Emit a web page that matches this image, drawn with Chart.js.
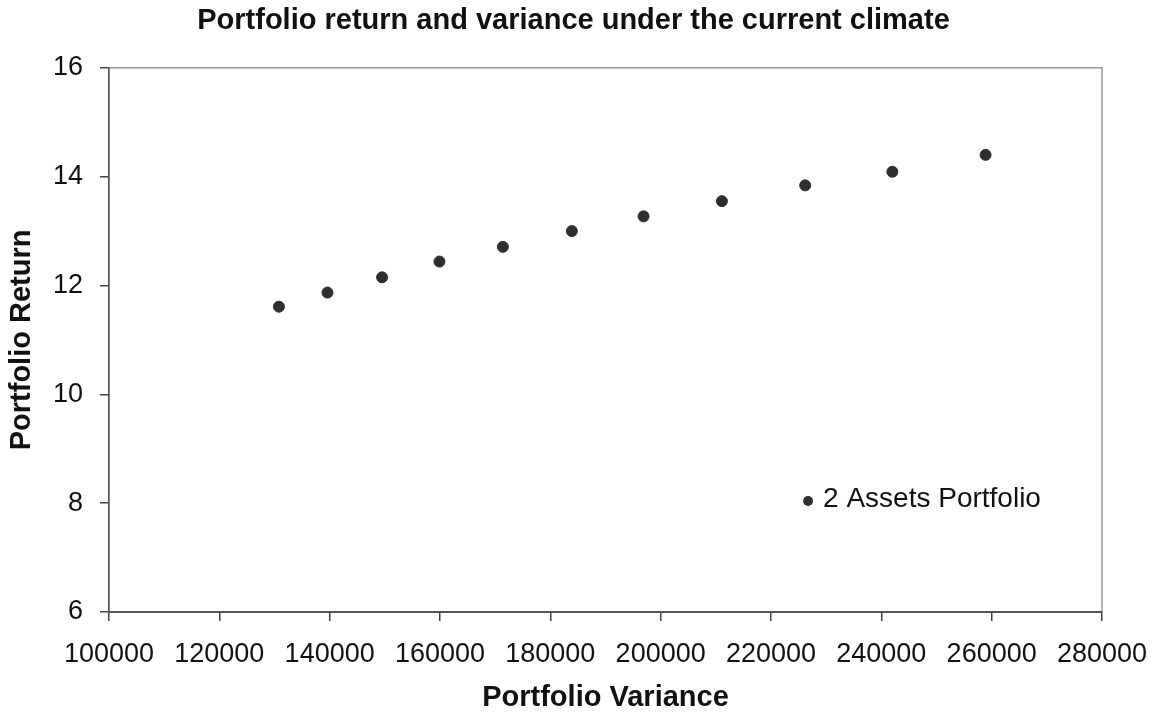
<!DOCTYPE html>
<html>
<head>
<meta charset="utf-8">
<title>Portfolio return and variance</title>
<script src="https://cdn.jsdelivr.net/npm/chart.js@4.4.0/dist/chart.umd.min.js"></script>
<style>
    body { margin: 0; background: #fff; }
    #wrap { width: 1153px; height: 712px; }
</style>
</head>
<body>
<div id="wrap"><canvas id="riskChart" width="1153" height="712"></canvas></div>
<script>
// Values
const variance = [130800, 139600, 149500, 159900, 171400, 183900, 196900, 211100, 226200, 242000, 258900];
const returns = [11.61, 11.87, 12.15, 12.44, 12.71, 13.00, 13.27, 13.55, 13.84, 14.09, 14.40];
const seriesName = '2 Assets Portfolio';
const xTicks = [100000, 120000, 140000, 160000, 180000, 200000, 220000, 240000, 260000, 280000];
const yTicks = [6, 8, 10, 12, 14, 16];

const FONT = "'Liberation Sans', Arial, sans-serif";
const INK = '#111';

// light grey frame on top/right, drawn before the axes so they sit over it
const frame = {
    id: 'frame',
    beforeDraw(chart) {
        const a = chart.chartArea;
        const ctx = chart.ctx;
        ctx.save();
        ctx.strokeStyle = '#9a9a9a';
        ctx.lineWidth = 1.5;
        ctx.strokeRect(a.left, a.top, a.right - a.left, a.bottom - a.top);
        ctx.restore();
    }
};

// legend sits inside the plot, lower right
const insideLegend = {
    id: 'insideLegend',
    afterDatasetsDraw(chart) {
        const a = chart.chartArea;
        const ctx = chart.ctx;
        const ds = chart.data.datasets[0];
        const mx = a.left + (a.right - a.left) * 0.704;
        const my = a.top + (a.bottom - a.top) * 0.796;
        ctx.save();
        ctx.fillStyle = ds.pointBackgroundColor;
        ctx.beginPath();
        ctx.arc(mx, my, 5, 0, Math.PI * 2);
        ctx.fill();
        ctx.fillStyle = INK;
        ctx.font = '28px ' + FONT;
        ctx.textBaseline = 'middle';
        ctx.textAlign = 'left';
        ctx.fillText(ds.label, mx + 15, my - 2);
        ctx.restore();
    }
};

document.addEventListener('DOMContentLoaded', () => {
    const ctx = document.getElementById('riskChart').getContext('2d');

    new Chart(ctx, {
        type: 'scatter',
        data: {
            datasets: [{
                label: seriesName,
                data: variance.map((v, i) => ({ x: v, y: returns[i] })),
                pointBackgroundColor: '#2e2e2e',
                pointBorderColor: '#2e2e2e',
                pointRadius: 5.5,
                pointHoverRadius: 5.5
            }]
        },
        options: {
            responsive: false,
            animation: false,
            layout: {
                padding: { left: 45, right: 51, top: 0, bottom: 0 }
            },
            plugins: {
                legend: { display: false },
                tooltip: { enabled: false },
                title: {
                    display: true,
                    text: 'Portfolio return and variance under the current climate',
                    color: INK,
                    font: { family: FONT, size: 29, weight: 'bold' },
                    padding: { top: 4, bottom: 29 }
                }
            },
            scales: {
                x: {
                    type: 'linear',
                    min: xTicks[0],
                    max: xTicks[xTicks.length - 1],
                    afterBuildTicks: scale => {
                        scale.ticks = xTicks.map(v => ({ value: v }));
                    },
                    afterFit: scale => {
                        scale.height = 100;
                        // edge labels fit inside the layout padding already
                        scale.paddingLeft = 0;
                        scale.paddingRight = 0;
                    },
                    ticks: {
                        color: INK,
                        font: { family: FONT, size: 27 },
                        padding: 17,
                        maxRotation: 0,
                        autoSkip: false,
                        callback: v => String(v)
                    },
                    grid: {
                        drawOnChartArea: false,
                        color: '#444',
                        tickLength: 9,
                        lineWidth: 1.5
                    },
                    border: { color: '#555', width: 2 },
                    title: {
                        display: true,
                        text: 'Portfolio Variance',
                        color: INK,
                        font: { family: FONT, size: 29, weight: 'bold' },
                        padding: { top: 0, bottom: -3 }
                    }
                },
                y: {
                    type: 'linear',
                    min: yTicks[0],
                    max: yTicks[yTicks.length - 1],
                    afterBuildTicks: scale => {
                        scale.ticks = yTicks.map(v => ({ value: v }));
                    },
                    afterFit: scale => { scale.width = 64; },
                    ticks: {
                        color: INK,
                        font: { family: FONT, size: 27 },
                        padding: 17,
                        callback: v => String(v)
                    },
                    grid: {
                        drawOnChartArea: false,
                        color: '#444',
                        tickLength: 9,
                        lineWidth: 1.5
                    },
                    border: { color: '#555', width: 1.5 },
                    title: {
                        display: true,
                        text: 'Portfolio Return',
                        color: INK,
                        font: { family: FONT, size: 29, weight: 'bold' },
                        padding: { top: -40, bottom: 0 }
                    }
                }
            }
        },
        plugins: [frame, insideLegend]
    });
});
</script>
</body>
</html>
